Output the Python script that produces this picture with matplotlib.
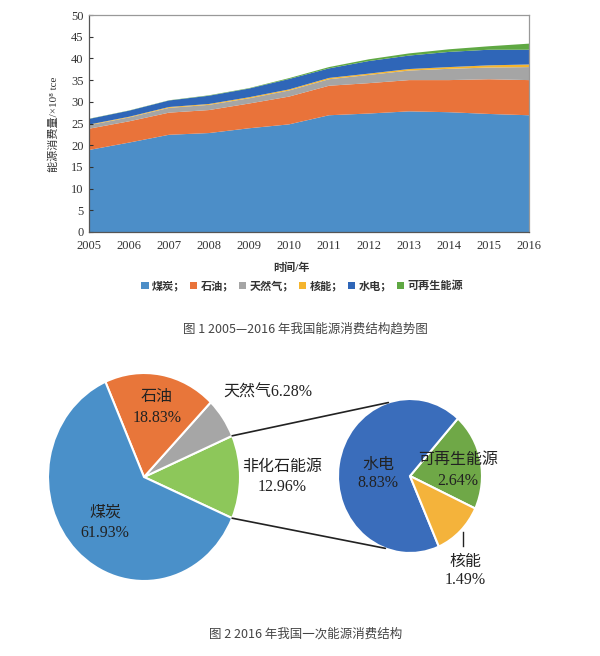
import numpy as np
import matplotlib
matplotlib.use("Agg")
import matplotlib.pyplot as plt
from matplotlib.patches import ConnectionPatch
from matplotlib.lines import Line2D

plt.rcParams['font.family'] = ['Liberation Serif', 'Noto Sans CJK SC', 'DejaVu Sans']

# ---- data (10^8 tce) ----
years = list(range(2005, 2017))
coal = [18.9, 20.6, 22.4, 22.8, 23.9, 24.8, 26.9, 27.3, 27.8, 27.6, 27.2, 26.9]
oil = [4.9, 4.9, 5.1, 5.3, 5.7, 6.4, 6.8, 7.0, 7.2, 7.4, 8.0, 8.1]
gas = [0.8, 0.9, 1.1, 1.2, 1.2, 1.4, 1.5, 1.9, 2.2, 2.6, 2.7, 3.0]
nuclear = [0.15, 0.15, 0.2, 0.2, 0.25, 0.25, 0.3, 0.3, 0.35, 0.4, 0.5, 0.6]
hydro = [1.3, 1.4, 1.5, 1.9, 2.0, 2.4, 2.2, 2.9, 3.1, 3.5, 3.6, 3.4]
renew = [0.05, 0.05, 0.05, 0.1, 0.1, 0.2, 0.3, 0.4, 0.5, 0.6, 0.8, 1.4]
series_names = ["煤炭；", "石油；", "天然气；", "核能；", "水电；", "可再生能源"]
series_colors = ["#4C8EC8", "#E9733A", "#A5A5A5", "#F5B52E", "#2F66B8", "#5FA843"]

# 2016 structure (%)
pie_names = ["非化石能源", "天然气", "石油", "煤炭"]
pie_vals = [12.96, 6.28, 18.83, 61.93]
pie_colors = ["#8DC75A", "#A6A6A6", "#E8763A", "#4A90C9"]
sub_names = ["可再生能源", "水电", "核能"]
sub_vals = [2.64, 8.83, 1.49]
sub_colors = ["#6FA847", "#3A6DBB", "#F4B33B"]

W, H = 600, 656
fig = plt.figure(figsize=(W / 100, H / 100), dpi=100)


def box(l, t, r, b):
    return [l / W, 1 - b / H, (r - l) / W, (b - t) / H]


def fxy(x, y):
    return (x / W, 1 - y / H)


# ---- figure 1: stacked area ----
ax = fig.add_axes(box(89, 15, 529, 232))
ax.stackplot(years, coal, oil, gas, nuclear, hydro, renew,
             colors=series_colors, labels=series_names, linewidth=0)
ax.set_xlim(2005, 2016)
ax.set_ylim(0, 50)
ax.set_xticks(years)
ax.set_yticks(range(0, 51, 5))
ax.tick_params(axis='y', direction='in', length=3, labelsize=9,
               colors='#333', pad=4)
ax.tick_params(axis='x', length=0, labelsize=9, colors='#333', pad=6)
for side in ("left", "bottom"):
    ax.spines[side].set_color('#555')
for side in ("top", "right"):
    ax.spines[side].set_color('#999')
for s in ax.spines.values():
    s.set_linewidth(0.9)

fig.text(*fxy(54, 124), "能源消费量/×10⁸ tce", rotation=90,
         ha='center', va='center', fontsize=8, color='#333')
fig.text(*fxy(292, 268), "时间/年", ha='center', va='center',
         fontsize=8, color='#333', fontweight='bold')

handles, labels = ax.get_legend_handles_labels()
fig.legend(handles, labels, loc='center', bbox_to_anchor=fxy(302, 286),
           ncol=6, frameon=False,
           prop=dict(size=8, weight='bold'), handlelength=0.7,
           handleheight=0.7, handletextpad=0.3, columnspacing=0.4,
           labelcolor='#333')

fig.text(*fxy(305, 329), "图 1 2005—2016 年我国能源消费结构趋势图",
         ha='center', va='center', fontsize=9, color='#444',
         family=['Noto Sans CJK SC', 'DejaVu Sans'])

# ---- figure 2: pie of pie ----
ax1 = fig.add_axes(box(144 - 96, 477 - 104, 144 + 96, 477 + 104))
start = -pie_vals[0] / 100 * 360 / 2
w1, _ = ax1.pie(pie_vals, colors=pie_colors, startangle=start,
                counterclock=True, radius=1,
                wedgeprops=dict(edgecolor='white', linewidth=1.5))
ax1.set_aspect('auto')
ax1.set_xlim(-1, 1)
ax1.set_ylim(-1, 1)

ax2 = fig.add_axes(box(410 - 72, 476 - 77, 410 + 72, 476 + 77))
w2, _ = ax2.pie(sub_vals, colors=sub_colors, startangle=-25,
                counterclock=True, radius=1,
                wedgeprops=dict(edgecolor='white', linewidth=1.5))
ax2.set_aspect('auto')
ax2.set_xlim(-1, 1)
ax2.set_ylim(-1, 1)

# connector lines from the non-fossil wedge to the sub pie
for ta, tb in ((w1[0].theta2, 107.5), (w1[0].theta1, 250.0)):
    ra, rb = np.deg2rad(ta), np.deg2rad(tb)
    con = ConnectionPatch(xyA=(np.cos(ra), np.sin(ra)), coordsA=ax1.transData,
                          xyB=(np.cos(rb), np.sin(rb)), coordsB=ax2.transData,
                          color='#222', linewidth=1.2)
    fig.add_artist(con)

lab = dict(ha='center', va='center', fontsize=11.5, color='#222')
fig.text(*fxy(157, 397), pie_names[2], **lab)
fig.text(*fxy(157, 418), f"{pie_vals[2]:.2f}%", **lab)
fig.text(*fxy(268, 393), f"{pie_names[1]}{pie_vals[1]:.2f}%", **lab)
fig.text(*fxy(282, 467), pie_names[0], **lab)
fig.text(*fxy(282, 487), f"{pie_vals[0]:.2f}%", **lab)
fig.text(*fxy(105, 513), pie_names[3], **lab)
fig.text(*fxy(105, 533), f"{pie_vals[3]:.2f}%", **lab)

fig.text(*fxy(378, 465), sub_names[1], **lab)
fig.text(*fxy(378, 483), f"{sub_vals[1]:.2f}%", **lab)
fig.text(*fxy(458, 460), sub_names[0], **lab)
fig.text(*fxy(458, 481), f"{sub_vals[0]:.2f}%", **lab)
fig.text(*fxy(465, 562), sub_names[2], **lab)
fig.text(*fxy(465, 580), f"{sub_vals[2]:.2f}%", **lab)
fig.add_artist(Line2D([463 / W, 463 / W], [1 - 532 / H, 1 - 546 / H],
                      color='#222', linewidth=1.0))

fig.text(*fxy(306, 634), "图 2 2016 年我国一次能源消费结构",
         ha='center', va='center', fontsize=9, color='#444',
         family=['Noto Sans CJK SC', 'DejaVu Sans'])

fig.savefig("out.png", dpi=100, facecolor='white')
